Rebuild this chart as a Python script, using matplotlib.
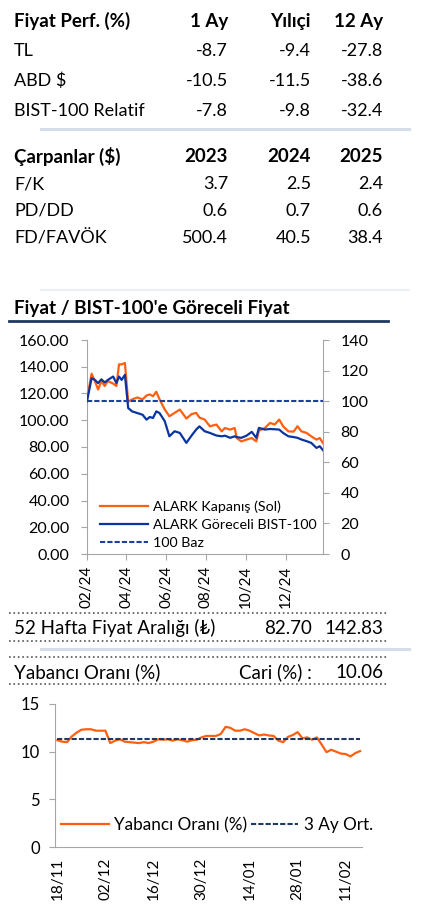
import matplotlib
matplotlib.use('Agg')
import matplotlib.pyplot as plt
import matplotlib.dates as mdates
from matplotlib.lines import Line2D
import pandas as pd

plt.rcParams['font.family'] = ['Lato', 'DejaVu Sans']

# tablo verileri
perf_header = ['Fiyat Perf. (%)', '1 Ay', 'Yılıçi', '12 Ay']
perf_rows = ['TL', 'ABD $', 'BIST-100 Relatif']
perf_1ay = [-8.7, -10.5, -7.8]
perf_ytd = [-9.4, -11.5, -9.8]
perf_12ay = [-27.8, -38.6, -32.4]

carp_header = ['Çarpanlar ($)', '2023', '2024', '2025']
carp_rows = ['F/K', 'PD/DD', 'FD/FAVÖK']
carp_2023 = [3.7, 0.6, 500.4]
carp_2024 = [2.5, 0.7, 40.5]
carp_2025 = [2.4, 0.6, 38.4]

# fiyat grafiği
price_dates = ['2024-02-01', '2024-02-08', '2024-02-13', '2024-02-18', '2024-02-23',
               '2024-02-28', '2024-03-04', '2024-03-12', '2024-03-17', '2024-03-21',
               '2024-03-25', '2024-03-30', '2024-04-04', '2024-04-10', '2024-04-18',
               '2024-04-26', '2024-05-02', '2024-05-07', '2024-05-12', '2024-05-17',
               '2024-05-22', '2024-05-30', '2024-06-06', '2024-06-14', '2024-06-22',
               '2024-07-02', '2024-07-10', '2024-07-17', '2024-07-22', '2024-07-30',
               '2024-08-07', '2024-08-17', '2024-08-25', '2024-08-30', '2024-09-07',
               '2024-09-14', '2024-09-17', '2024-09-24', '2024-10-02', '2024-10-10',
               '2024-10-17', '2024-10-21', '2024-10-30', '2024-11-07', '2024-11-14',
               '2024-11-21', '2024-11-27', '2024-12-05', '2024-12-13', '2024-12-19',
               '2024-12-25', '2025-01-02', '2025-01-09', '2025-01-17', '2025-01-22',
               '2025-01-27']
close_price = [115.6, 134.8, 129.3, 123.0, 129.3, 125.6, 129.3, 127.4, 125.6, 141.8,
               141.8, 142.8, 113.8, 115.6, 117.0, 115.6, 118.5, 119.3, 118.0, 121.3,
               115.6, 108.0, 103.0, 105.5, 108.0, 101.3, 104.6, 105.5, 102.0, 100.5,
               95.5, 96.8, 91.7, 94.2, 93.0, 94.2, 86.7, 84.2, 85.5, 86.7,
               84.2, 92.2, 94.2, 98.0, 96.8, 100.5, 95.5, 91.7, 91.5, 95.5,
               91.7, 90.5, 88.0, 85.5, 86.7, 82.9]
relative = [100.0, 115.0, 113.9, 111.8, 114.3, 112.2, 113.9, 116.1, 111.8, 116.1,
            113.9, 117.2, 95.5, 93.3, 92.2, 91.1, 87.9, 89.6, 89.0, 93.3,
            92.2, 86.8, 77.0, 80.3, 79.2, 72.7, 77.5, 81.4, 83.5, 80.3,
            79.2, 77.5, 77.0, 77.4, 76.0, 77.0, 76.5, 76.0, 77.4, 79.9,
            76.0, 82.5, 81.4, 81.8, 81.6, 81.4, 79.2, 77.0, 76.5, 76.0,
            74.9, 73.8, 72.7, 69.4, 70.5, 67.9]
base_level = 100

# 52 hafta / yabancı oranı
range_low = 82.70
range_high = 142.83
foreign_current = 10.06
foreign_avg = 11.3
foreign_ratio = [11.2, 11.05, 11.0, 11.6, 12.0, 12.3, 12.35, 12.35, 12.2, 12.2,
                 12.2, 10.9, 11.15, 11.3, 11.05, 11.0, 10.95, 10.9, 11.0, 10.9,
                 11.05, 11.3, 11.25, 11.3, 11.15, 11.3, 11.2, 11.05, 11.2, 11.25,
                 11.5, 11.65, 11.65, 11.65, 11.85, 12.6, 12.5, 12.2, 12.2, 12.35,
                 12.2, 11.95, 11.7, 11.8, 11.7, 11.65, 11.15, 11.0, 11.55, 11.75,
                 12.05, 11.4, 11.5, 11.25, 11.5, 10.75, 9.95, 10.2, 10.0, 9.8,
                 9.75, 9.5, 9.85, 10.06]
foreign_dates = pd.bdate_range('2024-11-18', '2025-02-14', freq='C',
                               holidays=['2025-01-01'])

W, H = 423, 922
ORANGE = '#FF5F0F'
BLUE = '#0A35A0'
DASHBLUE = '#1E3FA0'
NAVY = '#1F3864'
GRAY = '#A6A6A6'
LIGHT = '#D6DCE8'

fig = plt.figure(figsize=(W / 100, H / 100), dpi=100)


def fx(x):
    return x / W


def fy(y):
    return 1 - y / H


def txt(x, y, s, ha='left', size=13, weight='normal'):
    fig.text(fx(x), fy(y), s, ha=ha, va='center', fontsize=size, fontweight=weight)


def hline(y, x0, x1, color, lw, ls='-'):
    fig.add_artist(Line2D([fx(x0), fx(x1)], [fy(y), fy(y)], color=color, lw=lw,
                          ls=ls, transform=fig.transFigure))


col_x = [228, 311, 383]

# Fiyat performansı tablosu
txt(14, 21, perf_header[0], weight='bold', size=13.5)
for cx, h in zip(col_x, perf_header[1:]):
    txt(cx, 21, h, ha='right', weight='bold', size=13.5)
for i, name in enumerate(perf_rows):
    y = 51 + i * 30
    txt(14, y, name)
    for cx, v in zip(col_x, [perf_1ay[i], perf_ytd[i], perf_12ay[i]]):
        txt(cx, y, f'{v:.1f}', ha='right')
hline(129.5, 41, 409, LIGHT, 2.2)

# Çarpanlar
txt(14, 156, carp_header[0], weight='bold', size=13.5)
for cx, h in zip(col_x, carp_header[1:]):
    txt(cx, 156, h, ha='right', weight='bold', size=13.5)
for i, name in enumerate(carp_rows):
    y = 184 + i * 27
    txt(14, y, name)
    for cx, v in zip(col_x, [carp_2023[i], carp_2024[i], carp_2025[i]]):
        txt(cx, y, f'{v:.1f}', ha='right')

hline(290, 41, 409, '#ECEFF4', 1.5)

# Fiyat grafiği başlığı
txt(14, 308, "Fiyat / BIST-100'e Göreceli Fiyat", weight='bold', size=13.6)
hline(321, 9, 388, NAVY, 2)

d = pd.to_datetime(price_dates)
ax1 = fig.add_axes([fx(87), fy(554), fx(323) - fx(87), fy(340) - fy(554)])
ax2 = ax1.twinx()
l1, = ax1.plot(d, close_price, color=ORANGE, lw=1.6, label='ALARK Kapanış (Sol)')
l2, = ax2.plot(d, relative, color=BLUE, lw=1.6, label='ALARK Göreceli BIST-100')
l3, = ax2.plot([d[0], d[-1]], [base_level, base_level], color=DASHBLUE, lw=1.5,
               ls=(0, (2.5, 1)), label='100 Baz')
ax1.set_ylim(0, 160)
ax2.set_ylim(0, 140)
ax1.set_yticks(range(0, 161, 20))
ax1.set_yticklabels([f'{v:.2f}' for v in range(0, 161, 20)])
ax2.set_yticks(range(0, 141, 20))
ax1.set_xlim(d[0], d[-1])
ax1.xaxis.set_major_locator(mdates.MonthLocator(bymonth=[2, 4, 6, 8, 10, 12]))
ax1.xaxis.set_major_formatter(mdates.DateFormatter('%m/%y'))
for lab in ax1.get_xticklabels():
    lab.set_rotation(90)
for a in (ax1, ax2):
    for s in a.spines.values():
        s.set_color(GRAY)
    a.spines['top'].set_visible(False)
    a.tick_params(colors=GRAY, labelcolor='black', labelsize=11.5, length=4.5, pad=8)
ax1.spines['right'].set_visible(False)
ax2.spines['left'].set_visible(False)
ax2.spines['bottom'].set_visible(False)
ax1.tick_params(axis='x', labelsize=11, pad=4)
ax1.legend(handles=[l1, l2, l3], loc='lower left', bbox_to_anchor=(0.02, -0.015),
           frameon=False, handlelength=3.3, labelspacing=0.4, handletextpad=0.35,
           borderaxespad=0.2, fontsize=10.3)

# 52 hafta fiyat aralığı
hline(613, 9, 388, '#555555', 1.2, ':')
txt(14, 628, '52 Hafta Fiyat Aralığı (₺)', size=13.5)
txt(312, 628, f'{range_low:.2f}', ha='right', size=13.5)
txt(383, 628, f'{range_high:.2f}', ha='right', size=13.5)
hline(641, 9, 388, '#555555', 1.2, ':')
hline(648.5, 41, 409, LIGHT, 2.2)
hline(657, 9, 388, '#555555', 1.2, ':')
txt(14, 672, 'Yabancı Oranı (%)', size=13.5)
txt(312, 672, 'Cari (%) :', ha='right', size=13.5)
txt(383, 672, f'{foreign_current:.2f}', ha='right', size=13.5)
hline(683.5, 9, 388, '#555555', 1.2, ':')

ax3 = fig.add_axes([fx(55), fy(847), fx(362) - fx(55), fy(704) - fy(847)])
idx = list(range(len(foreign_ratio)))
ax3.plot(idx, foreign_ratio, color=ORANGE, lw=1.6, label='Yabancı Oranı (%)')
ax3.plot([idx[0], idx[-1]], [foreign_avg, foreign_avg], color=NAVY, lw=1.5,
         ls=(0, (2.5, 1)), label='3 Ay Ort.')
ax3.set_ylim(0, 15)
ax3.set_yticks([0, 5, 10, 15])
ax3.set_xlim(-0.5, 63.4)
ax3.set_xticks(idx[::10])
ax3.set_xticklabels([foreign_dates[i].strftime('%d/%m') for i in idx[::10]],
                    rotation=90)
for s in ['top', 'right']:
    ax3.spines[s].set_visible(False)
for s in ['left', 'bottom']:
    ax3.spines[s].set_color(GRAY)
ax3.tick_params(colors=GRAY, labelcolor='black', labelsize=12, length=4, pad=7)
ax3.tick_params(axis='x', labelsize=11, length=0, pad=8)
ax3.legend(loc='lower left', bbox_to_anchor=(-0.03, -0.01), ncol=2, frameon=False,
           fontsize=12.3, handlelength=2.8, columnspacing=0.2, handletextpad=0.3)

fig.savefig('out.png', dpi=100)
